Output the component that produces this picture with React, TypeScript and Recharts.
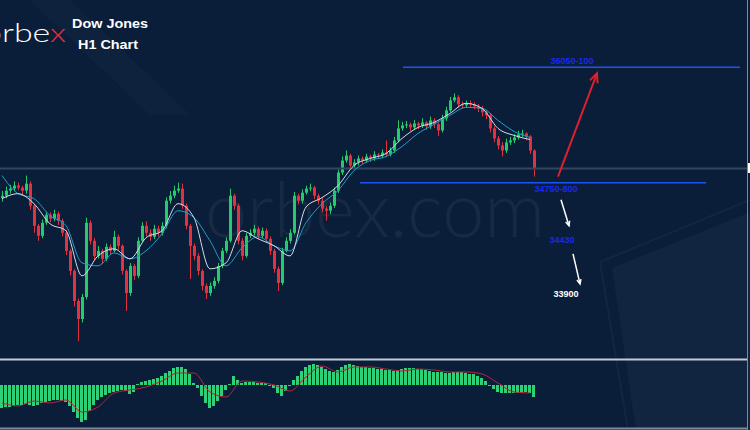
import { ComposedChart, Bar, Line, XAxis, YAxis, ReferenceLine, ReferenceDot } from 'recharts'

// ---- data ----
const FIRST_OPEN = 34600

const closes = [
  34628, 34685, 34708, 34742, 34719, 34685, 34764, 34515, 34289, 34176,
  34323, 34414, 34369, 34425, 34346, 34210, 34007, 33781, 33442, 33239,
  33487, 34323, 34120, 33950, 34007, 33917, 34052, 34007, 34165, 34063,
  33781, 33532, 33837, 33725, 34120, 34289, 34210, 34165, 34256, 34210,
  34289, 34572, 34628, 34685, 34708, 34515, 34289, 34063, 33950, 33781,
  33612, 33532, 33612, 33668, 33837, 34007, 34120, 34628, 34515, 34120,
  33950, 34176, 34210, 34256, 34176, 34233, 34142, 34007, 33804, 33645,
  34007, 34120, 34210, 34628, 34572, 34662, 34708, 34719, 34628, 34572,
  34482, 34459, 34515, 34685, 34888, 35024, 35080, 34968, 35002, 35047,
  35024, 35069, 35047, 35092, 35080, 35114, 35092, 35137, 35250, 35386,
  35419, 35431, 35397, 35442, 35419, 35453, 35408, 35476, 35431, 35363,
  35499, 35589, 35702, 35736, 35657, 35646, 35668, 35657, 35634, 35612,
  35566, 35532, 35386, 35273, 35194, 35137, 35228, 35250, 35284, 35318,
  35329, 35295, 35137, 34934,
]

const highs = [
  34680, 34730, 34750, 34790, 34775, 34740, 34855, 34790, 34540, 34310,
  34360, 34450, 34440, 34470, 34450, 34370, 34240, 34030, 33800, 33470,
  33520, 34380, 34350, 34150, 34060, 34030, 34090, 34080, 34233, 34190,
  34080, 33800, 33870, 33860, 34160, 34330, 34340, 34250, 34300, 34290,
  34330, 34610, 34680, 34740, 34775, 34764, 34540, 34310, 34090, 33980,
  33800, 33640, 33650, 33710, 33870, 34040, 34160, 34708, 34650, 34540,
  34150, 34210, 34250, 34300, 34280, 34270, 34260, 34170, 34030, 33830,
  34040, 34160, 34250, 34670, 34650, 34700, 34740, 34764, 34740, 34650,
  34600, 34510, 34550, 34720, 34920, 35070, 35137, 35100, 35040, 35080,
  35070, 35100, 35090, 35130, 35110, 35150, 35250, 35170, 35290, 35476,
  35460, 35470, 35450, 35480, 35460, 35500, 35470, 35520, 35500, 35450,
  35540, 35630, 35740, 35780, 35760, 35690, 35700, 35700, 35680, 35660,
  35640, 35590, 35550, 35410, 35300, 35230, 35270, 35290, 35320, 35360,
  35370, 35340, 35310, 35150,
]

const lows = [
  34560, 34600, 34650, 34680, 34690, 34640, 34650, 34470, 34210, 34120,
  34150, 34300, 34330, 34340, 34300, 34170, 33960, 33730, 33380, 32990,
  33200, 33460, 34080, 33900, 33920, 33860, 33890, 33960, 33990, 34020,
  33740, 33330, 33500, 33680, 33700, 34100, 34170, 34120, 34140, 34170,
  34180, 34260, 34540, 34600, 34660, 34480, 34250, 33690, 33900, 33730,
  33560, 33465, 33500, 33580, 33640, 33810, 33980, 34100, 34470, 34080,
  33900, 33930, 34150, 34180, 34140, 34150, 34100, 33960, 33760, 33555,
  33620, 33990, 34090, 34190, 34530, 34540, 34640, 34680, 34590, 34530,
  34440, 34346, 34420, 34490, 34660, 34860, 35000, 34930, 34940, 34970,
  34990, 35000, 35010, 35020, 35040, 35050, 35060, 35070, 35110, 35230,
  35360, 35390, 35360, 35370, 35380, 35390, 35370, 35380, 35390, 35300,
  35340, 35470, 35570, 35680, 35620, 35610, 35620, 35620, 35600, 35570,
  35520, 35490, 35340, 35230, 35150, 35070, 35110, 35200, 35220, 35260,
  35290, 35250, 35100, 34843,
]

// moving averages, read every 4th bar
const maFast = [
  34595, 34651, 34538, 34312, 34233, 33725, 33950, 34030, 33917, 34154,
  34233, 34538, 34380, 33804, 33871, 34233, 34143, 34064, 33950, 34500,
  34606, 34742, 34968, 35047, 35103, 35273, 35397, 35453, 35555, 35668,
  35612, 35386, 35307, 35261,
]
const maSlow = [
  34855, 34651, 34595, 34403, 34290, 33871, 33838, 33984, 33917, 34007,
  34199, 34459, 34380, 34120, 33838, 34041, 34165, 34064, 34007, 34323,
  34538, 34685, 34911, 35024, 35069, 35182, 35329, 35431, 35533, 35623,
  35612, 35476, 35352, 35284,
]

const macdHist = [
  -115, -110, -110, -105, -100, -100, -95, -100, -105, -100,
  -90, -85, -80, -75, -75, -80, -85, -105, -135, -165,
  -185, -175, -130, -100, -75, -60, -50, -40, -35, -30,
  -25, -30, -45, -35, 5, 15, 20, 25, 30, 35,
  45, 60, 70, 85, 90, 90, 80, 55, 10, -15,
  -55, -90, -115, -105, -80, -55, -25, 5, 45, 25,
  10, 15, 15, 15, 10, 10, 10, -5, -15, -40,
  -55, -30, -5, 25, 45, 70, 90, 100, 105, 100,
  90, 80, 70, 65, 75, 90, 100, 105, 100, 95,
  90, 90, 85, 85, 80, 80, 75, 75, 70, 75,
  80, 85, 85, 85, 80, 80, 75, 70, 65, 65,
  65, 60, 60, 65, 65, 65, 60, 55, 55, 45,
  35, 20, -5, -20, -35, -40, -40, -40, -40, -40,
  -40, -35, -40, -60,
]
// signal line, every 4th bar
const macdSignal = [
  -90, -105, -80, -90, -75, -135, -110, -40, -25, -10,
  20, 60, 60, -35, -60, 20, 15, 0, -30, 40,
  95, 65, 90, 90, 80, 70, 80, 75, 65, 65,
  55, 10, -35, -40,
]

const PRICE_NOW = 34934
const UPPER_TARGET = 36075
const SUPPORT = 34775

const BG = '#0a1e3a'
const GREEN = '#26c96b'
const RED = '#e3323f'
const LEVEL_BLUE = '#1d55f0'
const LABEL_BLUE = '#1a28f0'
const HIST_GREEN = '#2fd07a'

const data = closes.map((close, i) => ({
  t: i + 0.5,
  open: i === 0 ? FIRST_OPEN : closes[i - 1],
  close,
  high: highs[i],
  low: lows[i],
  range: [lows[i], highs[i]],
  maFast: i % 4 === 0 ? maFast[i / 4] : null,
  maSlow: i % 4 === 0 ? maSlow[i / 4] : null,
  hist: macdHist[i],
  signal: i % 4 === 0 ? macdSignal[i / 4] : null,
}))

// eslint-disable-next-line @typescript-eslint/no-explicit-any
function Candle(props: any) {
  const { x, y, width, height, payload } = props
  if (!payload) return null
  const { open, close, high, low } = payload
  const k = high > low ? height / (high - low) : 0
  const cx = Math.round(x + width / 2) + 0.5
  const top = y + (high - Math.max(open, close)) * k
  const bodyH = Math.max(1, Math.abs(close - open) * k)
  const color = close >= open ? GREEN : RED
  return (
    <g>
      <line x1={cx} x2={cx} y1={y} y2={y + height} stroke={color} strokeWidth={1} />
      <rect x={cx - 1.5} y={top} width={3} height={bodyH} fill={color} />
    </g>
  )
}

function arrow(color: string, w: number, head: number) {
  // eslint-disable-next-line @typescript-eslint/no-explicit-any
  return (p: any) => {
    const { x1, y1, x2, y2 } = p
    const a = Math.atan2(y2 - y1, x2 - x1)
    const hx1 = x2 - head * Math.cos(a - 0.42)
    const hy1 = y2 - head * Math.sin(a - 0.42)
    const hx2 = x2 - head * Math.cos(a + 0.42)
    const hy2 = y2 - head * Math.sin(a + 0.42)
    return (
      <g>
        <line x1={x1} y1={y1} x2={x2} y2={y2} stroke={color} strokeWidth={w} />
        <path d={`M${hx1},${hy1} L${x2},${y2} L${hx2},${hy2}`} fill="none" stroke={color} strokeWidth={w} />
      </g>
    )
  }
}

const labelStyle = { fontSize: 9, fontWeight: 700, fontFamily: 'Liberation Sans, Arial, sans-serif' }

export default function App() {
  return (
    <div style={{ position: 'absolute', left: 0, top: 0, width: 750, height: 430, background: BG, overflow: 'hidden' }}>
      <svg width={750} height={430} style={{ position: 'absolute', left: 0, top: 0 }}>
        <polygon points="30,0 70,0 190,115 150,115" fill="#ffffff" opacity={0.02} />
        <polygon points="612,268 750,212 750,430 636,430" fill="#ffffff" opacity={0.03} />
        <polyline points="600,262 750,200" stroke="#ffffff" strokeOpacity={0.04} fill="none" strokeWidth={2} />
        <polyline points="600,262 628,430" stroke="#ffffff" strokeOpacity={0.04} fill="none" strokeWidth={2} />
        <text x={205} y={237} fontFamily="Lato, sans-serif" fontWeight={300} fontSize={76}
          textLength={340} lengthAdjust="spacingAndGlyphs" fill="#ffffff" opacity={0.05}>orbex.com</text>
        <text x={-17} y={42} fontFamily="Lato, sans-serif" fontWeight={300} fontSize={26}
          textLength={83} lengthAdjust="spacingAndGlyphs" fill="#ffffff">
          orbe<tspan fill="#e8303c">x</tspan>
        </text>
        <text x={72} y={28} fontFamily="Liberation Sans, Arial, sans-serif" fontWeight={700} fontSize={13}
          textLength={76} lengthAdjust="spacingAndGlyphs" fill="#ffffff">Dow Jones</text>
        <text x={78} y={49} fontFamily="Liberation Sans, Arial, sans-serif" fontWeight={700} fontSize={13}
          textLength={60} lengthAdjust="spacingAndGlyphs" fill="#ffffff">H1 Chart</text>
      </svg>

      <div style={{ position: 'absolute', left: 0, top: 0 }}>
        <ComposedChart width={748} height={358} data={data} margin={{ top: 0, right: 0, bottom: 0, left: 0 }}>
          <XAxis type="number" dataKey="t" domain={[0, 187]} hide allowDataOverflow />
          <YAxis domain={[32800, 36832]} hide allowDataOverflow />
          <ReferenceLine y={PRICE_NOW} stroke="#33465e" strokeWidth={2} />
          <ReferenceLine segment={[{ x: 100.75, y: UPPER_TARGET }, { x: 185, y: UPPER_TARGET }]}
            stroke={LEVEL_BLUE} strokeWidth={1.5} />
          <ReferenceLine segment={[{ x: 90, y: SUPPORT }, { x: 176.5, y: SUPPORT }]}
            stroke={LEVEL_BLUE} strokeWidth={1.5} />
          <Bar dataKey="range" barSize={3} shape={Candle} isAnimationActive={false} />
          <Line dataKey="maSlow" type="monotone" stroke="#1f9cc8" strokeWidth={1} dot={false} activeDot={false}
            connectNulls isAnimationActive={false} />
          <Line dataKey="maFast" type="monotone" stroke="#d5dbe4" strokeWidth={1} dot={false} activeDot={false}
            connectNulls isAnimationActive={false} />
          <ReferenceLine segment={[{ x: 139.5, y: 34843 }, { x: 149.25, y: 36007 }]}
            shape={arrow('#e01f2f', 2, 10)} />
          <ReferenceLine segment={[{ x: 140.25, y: 34583 }, { x: 142.25, y: 34290 }]}
            shape={arrow('#ffffff', 1.5, 5)} />
          <ReferenceLine segment={[{ x: 143.25, y: 33973 }, { x: 145, y: 33634 }]}
            shape={arrow('#ffffff', 1.5, 5)} />
          <ReferenceDot x={143} y={36143} r={0} fill="none" stroke="none"
            label={{ value: '36050-100', position: 'center', fill: LABEL_BLUE, ...labelStyle }} />
          <ReferenceDot x={139} y={34708} r={0} fill="none" stroke="none"
            label={{ value: '34750-800', position: 'center', fill: LABEL_BLUE, ...labelStyle }} />
          <ReferenceDot x={140.5} y={34131} r={0} fill="none" stroke="none"
            label={{ value: '34430', position: 'center', fill: LABEL_BLUE, ...labelStyle }} />
          <ReferenceDot x={141.5} y={33520} r={0} fill="none" stroke="none"
            label={{ value: '33900', position: 'center', fill: '#ffffff', ...labelStyle }} />
        </ComposedChart>
      </div>

      <div style={{ position: 'absolute', left: 0, top: 361 }}>
        <ComposedChart width={748} height={66} data={data} margin={{ top: 0, right: 0, bottom: 0, left: 0 }}>
          <XAxis type="number" dataKey="t" domain={[0, 187]} hide allowDataOverflow />
          <YAxis domain={[-210, 120]} hide allowDataOverflow />
          <Bar dataKey="hist" fill={HIST_GREEN} barSize={3} isAnimationActive={false} />
          <Line dataKey="signal" type="monotone" stroke="#b3243a" strokeWidth={1} dot={false} activeDot={false}
            connectNulls isAnimationActive={false} />
        </ComposedChart>
      </div>

      <svg width={750} height={430} style={{ position: 'absolute', left: 0, top: 0, pointerEvents: 'none' }}>
        <line x1={0} x2={747} y1={359.5} y2={359.5} stroke="#c3cad3" strokeWidth={2} />
        <line x1={0} x2={747} y1={428.5} y2={428.5} stroke="#7d8a9b" strokeWidth={2} />
        <line x1={747.5} x2={747.5} y1={0} y2={430} stroke="#7a8aa2" strokeWidth={1} />
        <rect x={748} y={163} width={3} height={10} fill="#ffffff" />
      </svg>
    </div>
  )
}
